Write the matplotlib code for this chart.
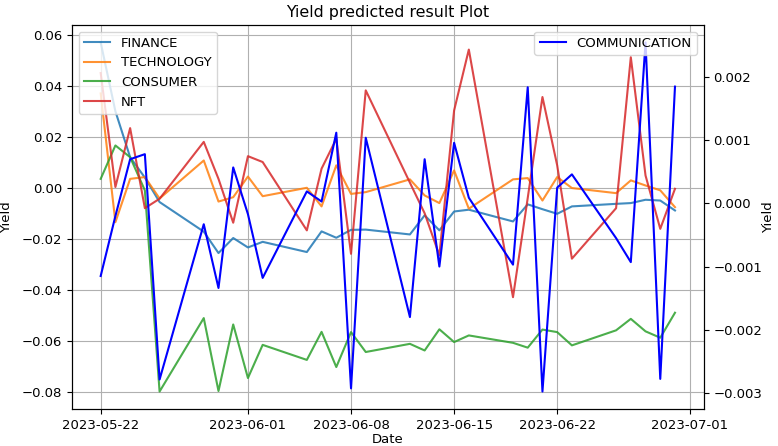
import numpy as np
import pandas as pd
import matplotlib
matplotlib.use("Agg")
import matplotlib.pyplot as plt
import matplotlib.dates as mdates

dates = pd.to_datetime([
    "2023-05-22", "2023-05-23", "2023-05-24", "2023-05-25", "2023-05-26",
    "2023-05-29", "2023-05-30", "2023-05-31", "2023-06-01", "2023-06-02",
    "2023-06-05", "2023-06-06", "2023-06-07", "2023-06-08", "2023-06-09",
    "2023-06-12", "2023-06-13", "2023-06-14", "2023-06-15", "2023-06-16",
    "2023-06-19", "2023-06-20", "2023-06-21", "2023-06-22", "2023-06-23",
    "2023-06-26", "2023-06-27", "2023-06-28", "2023-06-29", "2023-06-30",
])

finance = [0.057, 0.030, 0.012, 0.004, -0.0056,
           -0.0172, -0.0256, -0.0197, -0.0234, -0.0212,
           -0.0252, -0.0171, -0.0196, -0.0165, -0.0164,
           -0.0183, -0.0108, -0.0167, -0.0093, -0.0086,
           -0.0132, -0.0065, -0.0084, -0.0102, -0.0073,
           -0.0063, -0.0060, -0.0047, -0.0050, -0.0089]

technology = [0.037, -0.0135, 0.0035, 0.0042, -0.0042,
              0.0107, -0.0054, -0.0037, 0.0044, -0.0033,
              0.0000, -0.0073, 0.0088, -0.0024, -0.0017,
              0.0033, -0.0030, -0.0060, 0.0068, -0.0082,
              0.0033, 0.0038, -0.0050, 0.0042, -0.0001,
              -0.0021, 0.0029, 0.0009, -0.0010, -0.0076]

consumer = [0.0035, 0.0166, 0.012, -0.001, -0.0799,
            -0.0511, -0.0797, -0.0536, -0.0746, -0.0616,
            -0.0675, -0.0565, -0.0703, -0.0566, -0.0644,
            -0.0612, -0.0638, -0.0555, -0.0605, -0.0579,
            -0.0608, -0.0627, -0.0556, -0.0566, -0.0618,
            -0.0559, -0.0514, -0.0563, -0.0588, -0.0490]

nft = [0.045, 0.0003, 0.0234, -0.0080, -0.0043,
       0.0180, 0.0035, -0.0137, 0.0124, 0.0101,
       -0.0167, 0.0075, 0.0192, -0.0259, 0.0382,
       0.0020, -0.0100, -0.0265, 0.0303, 0.0542,
       -0.0429, -0.0040, 0.0356, 0.0088, -0.0278,
       -0.0080, 0.0512, 0.0048, -0.0161, -0.0004]

communication = [-0.00115, -0.00020, 0.00070, 0.00078, -0.00279,
                 -0.00033, -0.00134, 0.00057, -0.00017, -0.00118,
                 0.00019, 0.00003, 0.00112, -0.00293, 0.00104,
                 -0.00180, 0.00070, -0.00100, 0.00096, 0.00009,
                 -0.00097, 0.00184, -0.00298, 0.00025, 0.00046,
                 -0.00055, -0.00093, 0.00255, -0.00278, 0.00185]

plt.rcParams['font.size'] = 9.5

fig = plt.figure(figsize=(7.78, 4.46), dpi=100)
ax1 = fig.add_axes([0.0925, 0.083, 0.812, 0.861])

ax1.plot(dates, finance, label='FINANCE', color='tab:blue', alpha=0.85)
ax1.plot(dates, technology, label='TECHNOLOGY', color='tab:orange', alpha=0.85)
ax1.plot(dates, consumer, label='CONSUMER', color='tab:green', alpha=0.85)
ax1.plot(dates, nft, label='NFT', color='tab:red', alpha=0.85)
ax1.set_xlabel('Date', labelpad=1)
ax1.set_ylabel('Yield', labelpad=6)
ax1.grid(True)
ax1.legend(loc='upper left')

# communication sits on its own scale on the right
ax2 = ax1.twinx()
ax2.plot(dates, communication, label='COMMUNICATION', color='blue')
ax2.set_ylabel('Yield', labelpad=0)
ax2.legend(loc='upper right')

ax1.xaxis.set_major_locator(mdates.DayLocator(bymonthday=[1, 8, 15, 22]))
ax1.xaxis.set_major_formatter(mdates.DateFormatter('%Y-%m-%d'))

plt.title('Yield predicted result Plot')
fig.savefig('out.png', dpi=100)
